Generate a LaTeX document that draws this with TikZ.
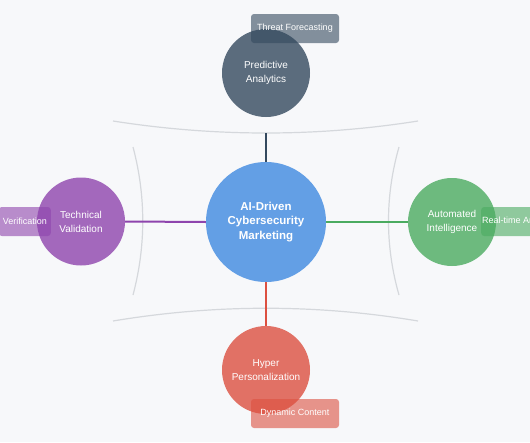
\documentclass[tikz,border=0pt]{standalone}
\usepackage{fontspec}
\setmainfont{Liberation Sans}
\usetikzlibrary{positioning}
\definecolor{HubBlue}{HTML}{4A90E2}
\definecolor{SlateDark}{HTML}{34495E}
\definecolor{ValPurple}{HTML}{8E44AD}
\definecolor{AutoGreen}{HTML}{4BAB60}
\definecolor{PersRed}{HTML}{DC5040}
\definecolor{ArcGray}{HTML}{D5D8DC}
\definecolor{PageBg}{HTML}{F7F8FA}

\begin{document}
\begin{tikzpicture}[x=1pt,y=-1pt,
  hub/.style={circle,minimum size=120pt,inner sep=0pt,fill=HubBlue,fill opacity=0.85,text opacity=1,text=white,font=\fontsize{11.5}{14.5}\selectfont\bfseries,align=center},
  pillar/.style={circle,minimum size=88pt,inner sep=0pt,fill opacity=0.8,text opacity=1,text=white,font=\fontsize{10}{14}\selectfont,align=center},
  tag/.style={rounded corners=3pt,minimum height=29pt,inner ysep=0pt,fill opacity=0.6,text opacity=1,text=white,font=\fontsize{9}{11}\selectfont},
  link/.style={line width=2pt},
  rim/.style={ArcGray,line width=1.2pt}]
  \useasboundingbox (0,0) rectangle (530,442);
  \fill[PageBg] (0,0) rectangle (530,442);
  \clip (0,0) rectangle (530,442);
  % guide arcs
  \draw[rim] (113,121) .. controls (215,137) and (317,137) .. (418,121);
  \draw[rim] (113,321) .. controls (215,304) and (317,304) .. (418,321);
  \draw[rim] (133,147) .. controls (146,196) and (146,246) .. (133,295);
  \draw[rim] (399,147) .. controls (385,196) and (385,246) .. (399,295);
  % hub and pillars
  \node[hub] (hub) at (266,222) {AI-Driven\\Cybersecurity\\Marketing};
  \node[pillar,fill=SlateDark] (pred) at (266,73) {Predictive\\Analytics};
  \node[pillar,fill=ValPurple] (tech) at (81,221.5) {Technical\\Validation};
  \node[pillar,fill=AutoGreen] (auto) at (452,222) {Automated\\Intelligence};
  \node[pillar,fill=PersRed] (pers) at (266,370) {Hyper\\Personalization};
  % connectors
  \coordinate (predlink) at (266,133);
  \draw[link,SlateDark] (hub.north) -- (predlink);
  \draw[link,ValPurple] (hub.west) -- (tech.east);
  \draw[link,AutoGreen] (hub.east) -- (auto.west);
  \draw[link,PersRed] (hub.south) -- (pers.north);
  % tags
  \node[tag,fill=SlateDark,minimum width=88pt] (threat) at (295,28.5) {Threat Forecasting};
  \node[tag,fill=ValPurple,anchor=east,inner xsep=4pt] (verif) at (51,221.5) {Verification};
  \node[tag,fill=AutoGreen,anchor=west,inner xsep=1pt] (realtime) at (481,221.5) {Real-time Analytics};
  \node[tag,fill=PersRed,minimum width=88pt] (dyn) at (295,413.5) {Dynamic Content};
\end{tikzpicture}
\end{document}
